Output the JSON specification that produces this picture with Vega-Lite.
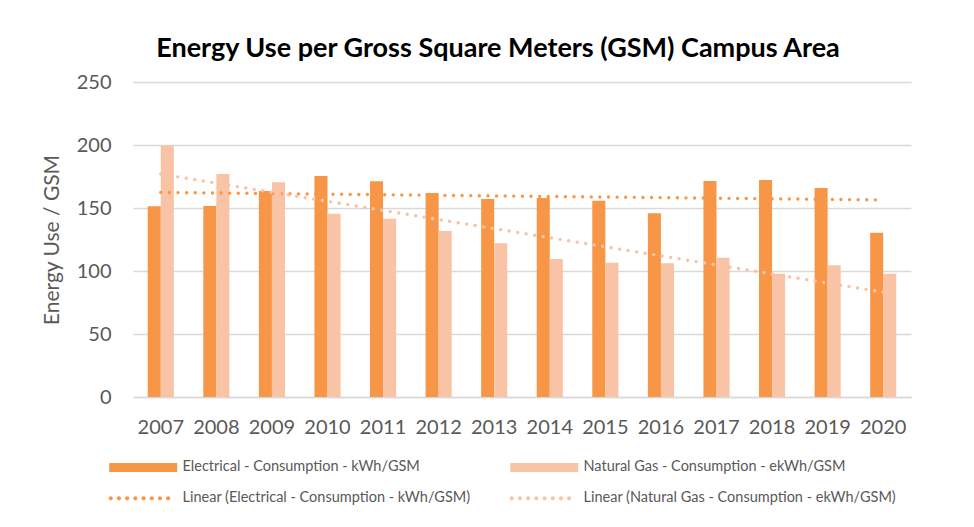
{
  "$schema": "https://vega.github.io/schema/vega-lite/v6.json",
  "width": 778,
  "height": 315,
  "autosize": {"type": "none"},
  "padding": {"left": 133, "top": 82, "right": 63, "bottom": 130},
  "background": "white",
  "title": {
    "text": "Energy Use per Gross Square Meters (GSM) Campus Area",
    "font": "Lato",
    "fontSize": 27,
    "fontWeight": "bold",
    "color": "#000000",
    "anchor": "middle",
    "dx": -24,
    "offset": 9
  },
  "config": {
    "view": {"stroke": null},
    "axis": {
      "labelFont": "Lato",
      "titleFont": "Lato",
      "labelColor": "#595959",
      "titleColor": "#595959",
      "labelFontSize": 20,
      "titleFontSize": 21,
      "titleFontWeight": "normal",
      "ticks": false
    }
  },
  "data": {
    "values": [
      {"year": 2007, "series": "Electrical - Consumption - kWh/GSM", "value": 151.3},
      {"year": 2007, "series": "Natural Gas - Consumption - ekWh/GSM", "value": 199.5},
      {"year": 2008, "series": "Electrical - Consumption - kWh/GSM", "value": 151.6},
      {"year": 2008, "series": "Natural Gas - Consumption - ekWh/GSM", "value": 177.0},
      {"year": 2009, "series": "Electrical - Consumption - kWh/GSM", "value": 163.5},
      {"year": 2009, "series": "Natural Gas - Consumption - ekWh/GSM", "value": 170.4},
      {"year": 2010, "series": "Electrical - Consumption - kWh/GSM", "value": 175.4},
      {"year": 2010, "series": "Natural Gas - Consumption - ekWh/GSM", "value": 145.5},
      {"year": 2011, "series": "Electrical - Consumption - kWh/GSM", "value": 171.2},
      {"year": 2011, "series": "Natural Gas - Consumption - ekWh/GSM", "value": 141.5},
      {"year": 2012, "series": "Electrical - Consumption - kWh/GSM", "value": 161.9},
      {"year": 2012, "series": "Natural Gas - Consumption - ekWh/GSM", "value": 131.7},
      {"year": 2013, "series": "Electrical - Consumption - kWh/GSM", "value": 157.1},
      {"year": 2013, "series": "Natural Gas - Consumption - ekWh/GSM", "value": 122.0},
      {"year": 2014, "series": "Electrical - Consumption - kWh/GSM", "value": 157.9},
      {"year": 2014, "series": "Natural Gas - Consumption - ekWh/GSM", "value": 109.5},
      {"year": 2015, "series": "Electrical - Consumption - kWh/GSM", "value": 155.8},
      {"year": 2015, "series": "Natural Gas - Consumption - ekWh/GSM", "value": 106.6},
      {"year": 2016, "series": "Electrical - Consumption - kWh/GSM", "value": 145.8},
      {"year": 2016, "series": "Natural Gas - Consumption - ekWh/GSM", "value": 106.1},
      {"year": 2017, "series": "Electrical - Consumption - kWh/GSM", "value": 171.4},
      {"year": 2017, "series": "Natural Gas - Consumption - ekWh/GSM", "value": 110.6},
      {"year": 2018, "series": "Electrical - Consumption - kWh/GSM", "value": 172.2},
      {"year": 2018, "series": "Natural Gas - Consumption - ekWh/GSM", "value": 97.9},
      {"year": 2019, "series": "Electrical - Consumption - kWh/GSM", "value": 165.9},
      {"year": 2019, "series": "Natural Gas - Consumption - ekWh/GSM", "value": 104.5},
      {"year": 2020, "series": "Electrical - Consumption - kWh/GSM", "value": 130.4},
      {"year": 2020, "series": "Natural Gas - Consumption - ekWh/GSM", "value": 97.9}
    ]
  },
  "layer": [
    {
      "mark": {"type": "bar"},
      "encoding": {
        "x": {
          "field": "year",
          "type": "ordinal",
          "scale": {"paddingInner": 0.53, "paddingOuter": 0.265},
          "axis": {
            "title": null,
            "labelAngle": 0,
            "domainColor": "#D9D9D9",
            "domainWidth": 1.3,
            "labelPadding": 20,
            "grid": false
          }
        },
        "xOffset": {
          "field": "series",
          "type": "nominal",
          "scale": {"paddingInner": 0, "domain": ["Electrical - Consumption - kWh/GSM", "Natural Gas - Consumption - ekWh/GSM"]}
        },
        "y": {
          "field": "value",
          "type": "quantitative",
          "scale": {"domain": [0, 250], "nice": false},
          "axis": {
            "title": "Energy Use / GSM",
            "values": [0, 50, 100, 150, 200, 250],
            "domain": false,
            "grid": true,
            "gridColor": "#D9D9D9",
            "gridWidth": 1.3,
            "labelPadding": 22,
            "titlePadding": 14
          }
        },
        "color": {
          "field": "series",
          "type": "nominal",
          "scale": {
            "domain": [
              "Electrical - Consumption - kWh/GSM",
              "Linear (Electrical - Consumption - kWh/GSM)",
              "Natural Gas - Consumption - ekWh/GSM",
              "Linear (Natural Gas - Consumption - ekWh/GSM)"
            ],
            "range": ["#F79646", "#F79646", "#F9C3A6", "#F9C3A6"]
          },
          "legend": {
            "title": null,
            "orient": "none",
            "legendX": -26,
            "legendY": 378,
            "columns": 2,
            "columnPadding": 12,
            "rowPadding": 16,
            "gridAlign": "all",
            "labelFont": "Lato",
            "labelFontSize": 14.5,
            "labelColor": "#595959",
            "labelLimit": 400,
            "labelOffset": 61,
            "symbolSize": 100,
            "encode": {
              "symbols": {
                "update": {
                  "shape": {"signal": "indexof(datum.value, 'Linear') === 0 ? 'M-1.12,0a0.42,0.42 0 1,0 0.84,0a0.42,0.42 0 1,0 -0.84,0M0.52,0a0.42,0.42 0 1,0 0.84,0a0.42,0.42 0 1,0 -0.84,0M2.16,0a0.42,0.42 0 1,0 0.84,0a0.42,0.42 0 1,0 -0.84,0M3.8,0a0.42,0.42 0 1,0 0.84,0a0.42,0.42 0 1,0 -0.84,0M5.44,0a0.42,0.42 0 1,0 0.84,0a0.42,0.42 0 1,0 -0.84,0M7.08,0a0.42,0.42 0 1,0 0.84,0a0.42,0.42 0 1,0 -0.84,0M8.72,0a0.42,0.42 0 1,0 0.84,0a0.42,0.42 0 1,0 -0.84,0M10.36,0a0.42,0.42 0 1,0 0.84,0a0.42,0.42 0 1,0 -0.84,0' : 'M-1,-0.9H12.6V0.9H-1Z'"},
                  "fill": {"scale": "color", "field": "value"},
                  "stroke": {"value": "transparent"},
                  "strokeWidth": {"value": 0},
                  "opacity": {"value": 1},
                  "fillOpacity": {"value": 1},
                  "size": {"value": 100}
                }
              }
            }
          }
        }
      }
    },
    {
      "transform": [
        {"regression": "value", "on": "year", "groupby": ["series"]}
      ],
      "mark": {
        "type": "line",
        "strokeDash": [0.01, 8.6],
        "strokeCap": "round",
        "strokeWidth": 3.4
      },
      "encoding": {
        "x": {"field": "year", "type": "ordinal"},
        "y": {"field": "value", "type": "quantitative"},
        "color": {"field": "series", "type": "nominal"}
      }
    }
  ]
}
